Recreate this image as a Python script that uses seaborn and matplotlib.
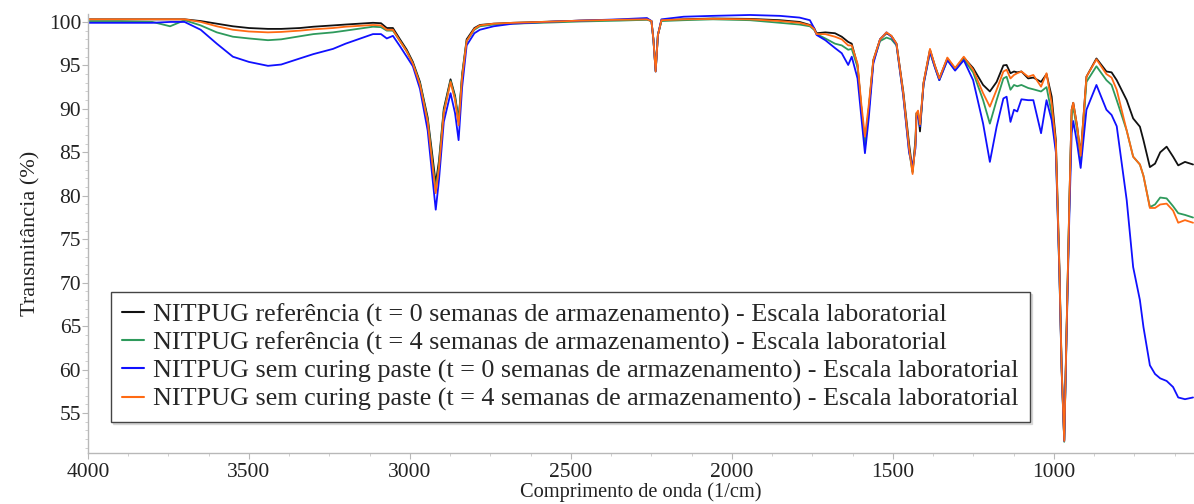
import numpy as np
import pandas as pd
import matplotlib
matplotlib.use("Agg")
import matplotlib.pyplot as plt
from matplotlib.ticker import MultipleLocator
import seaborn as sns

# wavenumbers (1/cm)
wavenumber = [
    4000, 3900, 3800, 3745, 3700, 3650, 3600, 3550, 3500, 3441, 3400, 3342, 3300, 3239, 3200,
    3115, 3090, 3072, 3053, 3031, 3010, 2991, 2969, 2945, 2930, 2920, 2910, 2895, 2874, 2860,
    2849, 2838, 2824, 2800, 2783, 2740, 2680, 2550, 2472, 2350, 2264, 2250, 2244, 2237, 2230,
    2219, 2150, 2059, 1944, 1851, 1790, 1758, 1745, 1737, 1710, 1680, 1659, 1639, 1628, 1610,
    1598, 1587, 1575, 1561, 1540, 1520, 1505, 1489, 1468, 1450, 1439, 1430, 1427, 1422, 1416,
    1405, 1385, 1370, 1356, 1331, 1307, 1280, 1251, 1220, 1199, 1178, 1157, 1147, 1135, 1124,
    1114, 1101, 1080, 1064, 1040, 1023, 1007, 994, 983, 976, 968, 961, 952, 945, 940,
    928, 917, 899, 868, 837, 821, 805, 774, 754, 733, 722, 702, 686, 670, 650,
    630, 614, 593, 568,
]

ref_t0 = [
    100.3, 100.3, 100.3, 100.3, 100.3, 100.1, 99.8, 99.5, 99.3, 99.2, 99.2, 99.3, 99.45, 99.6, 99.7,
    99.9, 99.85, 99.3, 99.3, 98.0, 96.8, 95.4, 93.1, 89.0, 84.5, 81.4, 84.0, 90.0, 93.4, 91.5,
    88.7, 94.0, 98.0, 99.3, 99.65, 99.8, 99.9, 100.05, 100.15, 100.25, 100.3, 100.1, 98.0, 94.4, 98.5,
    100.2, 100.3, 100.4, 100.35, 100.2, 100.0, 99.65, 99.3, 98.7, 98.8, 98.7, 98.3, 97.7, 97.5, 95.0,
    90.0, 85.8, 90.0, 95.6, 98.0, 98.7, 98.4, 97.5, 92.0, 86.0, 82.8, 86.5, 89.5, 89.6, 87.4,
    93.0, 96.8, 95.0, 93.5, 95.8, 94.6, 95.9, 94.7, 92.75, 92.0, 93.1, 95.0, 95.05, 94.1, 94.3,
    94.2, 94.3, 93.5, 93.6, 93.1, 94.0, 91.4, 86.4, 71.8, 60.3, 51.9, 64.2, 79.5, 89.9, 90.7,
    88.0, 84.7, 93.7, 95.8, 94.3, 94.2, 93.3, 91.0, 88.9, 87.95, 86.4, 83.3, 83.7, 85.0, 85.65,
    84.5, 83.5, 83.9, 83.6,
]

ref_t4 = [
    100.1, 100.1, 100.0, 99.5, 100.2, 99.6, 98.8, 98.3, 98.1, 97.9, 98.0, 98.35, 98.6, 98.8, 99.0,
    99.45, 99.4, 99.0, 99.0, 97.8, 96.6, 95.2, 92.9, 88.7, 83.8, 80.7, 83.5, 89.7, 93.2, 91.3,
    88.5, 93.8, 97.8, 99.1, 99.5, 99.7, 99.8, 99.95, 100.05, 100.15, 100.25, 100.1, 98.0, 94.3, 98.5,
    100.1, 100.2, 100.3, 100.2, 99.9, 99.7, 99.5, 99.1, 98.6, 98.1, 97.5, 97.3, 96.8, 96.9, 94.8,
    90.0, 85.6, 90.0, 95.4, 97.8, 98.2, 98.0, 97.3, 91.6, 85.2, 82.7, 86.0, 89.2, 89.4, 88.0,
    92.8, 96.5, 94.8, 93.3, 95.6, 94.5, 95.7, 94.2, 91.0, 88.3, 91.0, 93.5, 93.7, 92.2, 92.75,
    92.6, 92.75, 92.4, 92.25, 92.0, 92.5, 89.5, 85.5, 71.0, 59.8, 51.7, 63.8, 79.0, 89.2, 90.25,
    87.5, 84.1, 93.1, 94.9, 93.3, 92.75, 91.0, 87.5, 84.5, 83.6, 82.3, 78.7, 79.0, 79.8, 79.7,
    78.8, 78.0, 77.8, 77.5,
]

sem_t0 = [
    99.9, 99.9, 99.9, 100.0, 100.0, 99.1, 97.5, 96.0, 95.4, 94.95, 95.1, 95.8, 96.3, 96.9, 97.5,
    98.6, 98.6, 98.1, 98.4, 97.2, 96.0, 94.9, 92.3, 87.5, 82.0, 78.4, 81.8, 88.5, 91.8, 89.5,
    86.4, 92.5, 97.3, 98.7, 99.1, 99.5, 99.8, 100.05, 100.15, 100.3, 100.45, 100.1, 98.0, 94.3, 98.5,
    100.3, 100.6, 100.7, 100.8, 100.7, 100.5, 100.2, 99.3, 98.5, 97.9, 97.0, 96.4, 95.05, 96.0, 93.5,
    89.0, 84.9, 89.0, 95.2, 98.0, 98.8, 98.3, 97.4, 91.5, 85.0, 83.3, 85.5, 89.0, 89.2, 88.0,
    92.8, 96.6, 94.8, 93.3, 95.6, 94.4, 95.6, 93.3, 88.3, 83.9, 87.95, 91.2, 91.4, 88.5, 89.9,
    89.7, 91.1, 91.0, 91.0, 87.2, 91.0, 88.7, 85.0, 71.0, 59.8, 51.8, 63.5, 78.0, 87.2, 88.6,
    86.0, 83.2, 89.9, 92.75, 89.9, 89.3, 88.0, 79.5, 71.8, 68.0, 64.9, 60.5, 59.5, 59.0, 58.7,
    58.0, 56.8, 56.6, 56.8,
]

sem_t4 = [
    100.3, 100.3, 100.3, 100.3, 100.3, 100.0, 99.5, 99.1, 98.9, 98.8, 98.85, 99.0, 99.15, 99.3, 99.45,
    99.65, 99.6, 99.1, 99.1, 97.8, 96.6, 95.2, 92.8, 88.5, 83.5, 80.3, 83.2, 89.5, 93.1, 91.0,
    88.1, 93.6, 97.8, 99.2, 99.6, 99.8, 99.9, 100.05, 100.15, 100.25, 100.3, 100.1, 98.0, 94.3, 98.5,
    100.2, 100.3, 100.35, 100.3, 100.1, 99.9, 99.6, 99.2, 98.6, 98.6, 98.3, 98.0, 97.3, 97.3, 95.2,
    90.5, 86.8, 90.5, 95.6, 98.0, 98.8, 98.4, 97.5, 91.8, 85.5, 82.5, 86.0, 89.5, 89.8, 88.2,
    93.0, 96.9, 95.0, 93.5, 95.9, 94.7, 96.0, 94.5, 91.8, 90.25, 92.2, 94.3, 94.5, 93.5, 93.9,
    94.1, 94.3, 93.7, 93.9, 92.55, 94.1, 90.6, 86.0, 71.5, 60.0, 51.8, 64.0, 79.5, 89.9, 90.7,
    88.0, 84.6, 93.7, 95.7, 94.0, 93.6, 92.2, 87.5, 84.5, 83.6, 82.3, 78.6, 78.6, 79.0, 79.1,
    78.3, 76.9, 77.2, 76.9,
]

labels = [
    "NITPUG referência (t = 0 semanas de armazenamento) - Escala laboratorial",
    "NITPUG referência (t = 4 semanas de armazenamento) - Escala laboratorial",
    "NITPUG sem curing paste (t = 0 semanas de armazenamento) - Escala laboratorial",
    "NITPUG sem curing paste (t = 4 semanas de armazenamento) - Escala laboratorial",
]
colors = ["#111111", "#2e9a5c", "#1010ff", "#ff6a13"]

frames = []
for lab, vals in zip(labels, [ref_t0, ref_t4, sem_t0, sem_t4]):
    frames.append(pd.DataFrame({"wn": wavenumber, "T": vals, "amostra": lab}))
df = pd.concat(frames, ignore_index=True)

sns.set_style("white")
plt.rcParams["font.family"] = ["Liberation Serif", "DejaVu Serif"]

fig = plt.figure(figsize=(11.94, 5.04), dpi=100)
ax = fig.add_axes([0.0737, 0.101, 0.9263, 0.871])

sns.lineplot(data=df, x="wn", y="T", hue="amostra", hue_order=labels,
             palette=dict(zip(labels, colors)), linewidth=1.3, ax=ax,
             estimator=None, sort=False)

ax.set_xlim(4000, 565)
ax.set_ylim(50.4, 100.9)
ax.xaxis.set_major_locator(MultipleLocator(500))
ax.xaxis.set_minor_locator(MultipleLocator(125))
ax.yaxis.set_major_locator(MultipleLocator(5))
ax.yaxis.set_minor_locator(MultipleLocator(1))

for side in ["top", "right"]:
    ax.spines[side].set_visible(False)
for side in ["left", "bottom"]:
    ax.spines[side].set_color("#b8b8b8")
    ax.spines[side].set_linewidth(1.0)

ax.tick_params(which="major", direction="out", length=4, width=0.8, color="#b8b8b8",
               labelsize=15.5, labelcolor="#222222")
ax.tick_params(axis="y", which="major", pad=1)
ax.tick_params(axis="x", which="major", pad=3)
ax.tick_params(which="minor", direction="out", length=2.5, width=0.6, color="#c8c8c8")
ax.tick_params(left=True, bottom=True, which="both")

ax.set_xlabel("Comprimento de onda (1/cm)", fontsize=14.7, color="#222222", labelpad=0)
ax.set_ylabel("Transmitância (%)", fontsize=16, color="#222222", labelpad=6)

leg = ax.legend(loc="upper left", bbox_to_anchor=(0.093, 0.4206), bbox_transform=fig.transFigure,
                fontsize=18.8, frameon=True, fancybox=False, edgecolor="#444444",
                handlelength=0.85, handletextpad=0.35, labelspacing=0.17, borderpad=0.42,
                borderaxespad=0, shadow={"ox": 1.5, "oy": -1.5, "shade": 0.25})
leg.get_frame().set_linewidth(1.0)
for line in leg.get_lines():
    line.set_linewidth(1.5)

fig.savefig("out.png", dpi=100)
